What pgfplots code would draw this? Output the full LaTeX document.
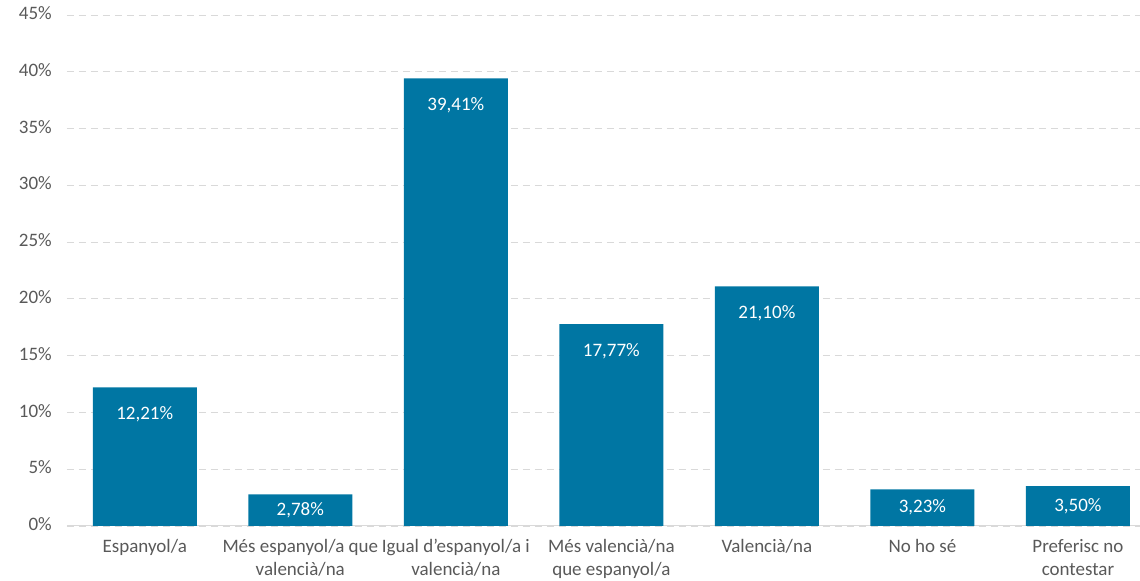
\documentclass[border=0pt]{standalone}
\usepackage{pgfplots}
\pgfplotsset{compat=1.18}
\usepackage{pgfplotstable}
\usepackage{fontspec}
\setmainfont{Carlito}
\usetikzlibrary{calc}
\definecolor{barblue}{HTML}{0076A3}
\definecolor{txtgray}{HTML}{595959}
\definecolor{gridgray}{HTML}{D9D9D9}
\pgfplotstableread{
x y
0 12.21
1 2.78
2 39.41
3 17.77
4 21.10
5 3.23
6 3.50
}\data
\begin{document}
\begin{tikzpicture}
\begin{axis}[
  scale only axis,
  width=1073pt, height=511pt,
  xmin=-0.5, xmax=6.399,
  ymin=0, ymax=45,
  axis x line*=bottom,
  axis y line*=left,
  x axis line style={draw=gridgray, line width=1pt},
  y axis line style={draw=none},
  major tick length=0pt,
  ytick={0,5,...,45},
  yticklabels={0\%,5\%,10\%,15\%,20\%,25\%,30\%,35\%,40\%,45\%},
  xtick=data,
  xticklabels={Espanyol/a, {Més espanyol/a que\\valencià/na}, {Igual d’espanyol/a i\\valencià/na}, {Més valencià/na\\que espanyol/a}, Valencià/na, No ho sé, {Preferisc no\\contestar}},
  typeset ticklabels with strut,
  ymajorgrids,
  grid style={draw=gridgray, line width=0.9pt, dash pattern=on 7pt off 5pt},
  yticklabel style={font=\fontsize{19}{23}\selectfont, text=txtgray, anchor=east, xshift=-11.7pt},
  xticklabel style={font=\fontsize{19}{22.5}\selectfont, text=txtgray, align=center, anchor=north, inner sep=0pt, yshift=-11pt},
  ybar, bar width=104pt,
  clip=false,
]
\addplot[fill=barblue, draw=none,
  point meta=y,
  visualization depends on={y \as \rawy},
  nodes near coords={\pgfmathprintnumber[fixed, fixed zerofill, precision=2, use comma, assume math mode=true]{\pgfplotspointmeta}\%},
  every node near coord/.append style={font=\fontsize{19}{23}\selectfont, text=white, anchor=center, yshift={-min(27,\rawy*5.68)}},
] table[x=x, y=y] {\data};
\end{axis}
\pgfresetboundingbox
\useasboundingbox ($(current axis.south west)+(-67pt,-55pt)$) rectangle ($(current axis.north east)+(0pt,15pt)$);
\end{tikzpicture}
\end{document}
